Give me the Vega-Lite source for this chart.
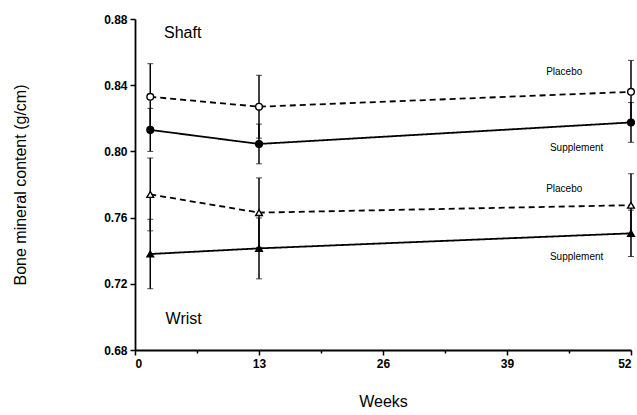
{
  "$schema": "https://vega.github.io/schema/vega-lite/v6.json",
  "width": 496,
  "height": 331,
  "autosize": "none",
  "padding": {"left": 135, "top": 19, "right": 6, "bottom": 65},
  "background": "white",
  "config": {
    "view": {"stroke": null},
    "font": "Liberation Sans",
    "axis": {"grid": false, "domainColor": "black", "domainWidth": 1.8, "tickColor": "black", "tickWidth": 1.5, "labelColor": "black", "titleColor": "black", "labelFontWeight": "bold", "labelFontSize": 12, "titleFontSize": 16, "titleFontWeight": "normal"}
  },
  "datasets": {
    "bmc": [
      {"site": "Shaft", "group": "Placebo", "week": 1.6, "mean": 0.833, "se": 0.020},
      {"site": "Shaft", "group": "Placebo", "week": 13, "mean": 0.827, "se": 0.019},
      {"site": "Shaft", "group": "Placebo", "week": 52, "mean": 0.836, "se": 0.019},
      {"site": "Shaft", "group": "Supplement", "week": 1.6, "mean": 0.813, "se": 0.013},
      {"site": "Shaft", "group": "Supplement", "week": 13, "mean": 0.8045, "se": 0.012},
      {"site": "Shaft", "group": "Supplement", "week": 52, "mean": 0.8175, "se": 0.012},
      {"site": "Wrist", "group": "Placebo", "week": 1.6, "mean": 0.774, "se": 0.022},
      {"site": "Wrist", "group": "Placebo", "week": 13, "mean": 0.763, "se": 0.021},
      {"site": "Wrist", "group": "Placebo", "week": 52, "mean": 0.7675, "se": 0.019},
      {"site": "Wrist", "group": "Supplement", "week": 1.6, "mean": 0.738, "se": 0.021},
      {"site": "Wrist", "group": "Supplement", "week": 13, "mean": 0.7414, "se": 0.0184},
      {"site": "Wrist", "group": "Supplement", "week": 52, "mean": 0.7505, "se": 0.014}
    ],
    "labels": [
      {"text": "Placebo", "week": 45, "value": 0.848, "size": "small"},
      {"text": "Supplement", "week": 46.3, "value": 0.802, "size": "small"},
      {"text": "Placebo", "week": 45, "value": 0.777, "size": "small"},
      {"text": "Supplement", "week": 46.3, "value": 0.736, "size": "small"},
      {"text": "Shaft", "week": 5.0, "value": 0.8715, "size": "big"},
      {"text": "Wrist", "week": 5.1, "value": 0.699, "size": "big"}
    ]
  },
  "layer": [
    {
      "data": {"name": "bmc"},
      "mark": {"type": "line", "color": "black", "strokeWidth": 1.8},
      "encoding": {
        "x": {"field": "week", "type": "quantitative", "scale": {"domain": [0, 52], "nice": false}, "axis": {"values": [0, 6.5, 13, 19.5, 26, 32.5, 39, 45.5, 52], "labelExpr": "datum.value % 13 === 0 ? datum.label : ''", "tickSize": {"condition": {"test": "datum.value % 13 === 0", "value": 5}, "value": 3}, "title": "Weeks", "titlePadding": 24, "labelPadding": 3}},
        "y": {"field": "mean", "type": "quantitative", "title": "Bone mineral content (g/cm)", "scale": {"domain": [0.68, 0.88], "nice": false, "zero": false}, "axis": {"values": [0.68, 0.72, 0.76, 0.80, 0.84, 0.88], "format": ".2f", "tickSize": 5, "titlePadding": 75, "labelPadding": 3}},
        "detail": [{"field": "site"}, {"field": "group"}],
        "strokeDash": {"field": "group", "type": "nominal", "scale": {"domain": ["Placebo", "Supplement"], "range": [[6, 4], [1, 0]]}, "legend": null}
      }
    },
    {
      "data": {"name": "bmc"},
      "mark": {"type": "errorbar", "ticks": {"size": 6, "color": "black", "strokeWidth": 1.5}, "rule": {"color": "black", "strokeWidth": 1.5}},
      "encoding": {
        "x": {"field": "week", "type": "quantitative"},
        "y": {"field": "mean", "type": "quantitative", "title": "Bone mineral content (g/cm)"},
        "yError": {"field": "se"},
        "detail": [{"field": "site"}, {"field": "group"}]
      }
    },
    {
      "data": {"name": "bmc"},
      "mark": {"type": "point", "filled": false, "stroke": "black", "strokeWidth": 1.4, "opacity": 1},
      "encoding": {
        "x": {"field": "week", "type": "quantitative"},
        "y": {"field": "mean", "type": "quantitative", "title": "Bone mineral content (g/cm)"},
        "shape": {"field": "site", "type": "nominal", "scale": {"domain": ["Shaft", "Wrist"], "range": ["circle", "triangle-up"]}, "legend": null},
        "fill": {"field": "group", "type": "nominal", "scale": {"domain": ["Placebo", "Supplement"], "range": ["white", "black"]}, "legend": null},
        "size": {"value": 45}
      }
    },
    {
      "data": {"name": "labels"},
      "mark": {"type": "text", "color": "black", "font": "Liberation Sans"},
      "encoding": {
        "x": {"field": "week", "type": "quantitative"},
        "y": {"field": "value", "type": "quantitative", "title": "Bone mineral content (g/cm)"},
        "text": {"field": "text"},
        "size": {"field": "size", "type": "nominal", "scale": {"domain": ["small", "big"], "range": [10, 16]}, "legend": null}
      }
    }
  ]
}
